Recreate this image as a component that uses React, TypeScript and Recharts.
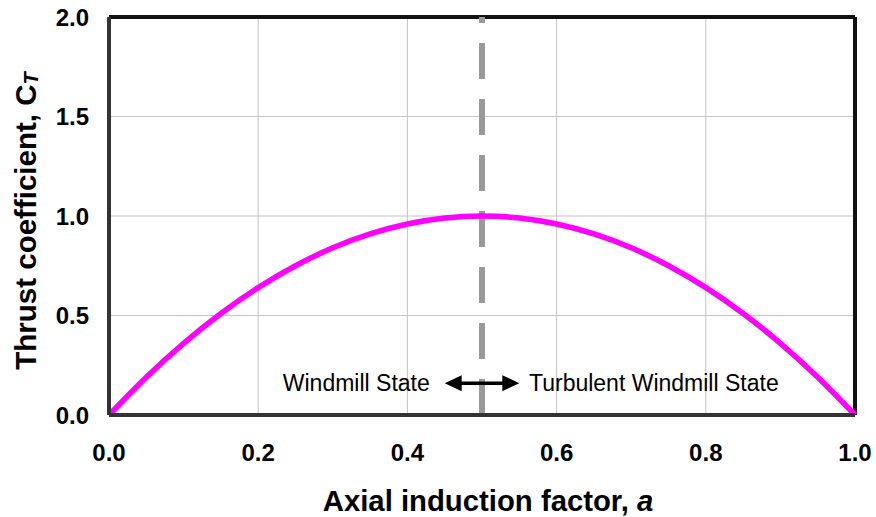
import { LineChart, Line, XAxis, YAxis, CartesianGrid, ReferenceLine, ReferenceDot } from "recharts"

// axial induction factor a
const inductionFactor = [
  0, 0.05, 0.1, 0.15, 0.2, 0.25, 0.3, 0.35, 0.4, 0.45, 0.5,
  0.55, 0.6, 0.65, 0.7, 0.75, 0.8, 0.85, 0.9, 0.95, 1.0,
]
// thrust coefficient CT
const thrustCoeff = [
  0, 0.19, 0.36, 0.51, 0.64, 0.75, 0.84, 0.91, 0.96, 0.99, 1.0,
  0.99, 0.96, 0.91, 0.84, 0.75, 0.64, 0.51, 0.36, 0.19, 0,
]
const xTicks = [0, 0.2, 0.4, 0.6, 0.8, 1.0]
const yTicks = [0, 0.5, 1.0, 1.5, 2.0]

const divider = 0.5
const arrowFrom = 0.45
const arrowTo = 0.55
const arrowLevel = 0.16
const leftLabel = "Windmill State"
const rightLabel = "Turbulent Windmill State"

const data = inductionFactor.map((a, i) => ({ a, ct: thrustCoeff[i] }))

const font = "Arial, 'Liberation Sans', Helvetica, sans-serif"

function Arrow(props: any) {
  const x1 = props.x1 ?? props.points?.[0]?.x
  const y1 = props.y1 ?? props.points?.[0]?.y
  const x2 = props.x2 ?? props.points?.[1]?.x
  const head = 17
  const half = 8
  return (
    <g>
      <line x1={x1 + head - 2} y1={y1} x2={x2 - head + 2} y2={y1} stroke="#000" strokeWidth={3.5} />
      <polygon points={`${x1},${y1} ${x1 + head},${y1 - half} ${x1 + head},${y1 + half}`} fill="#000" />
      <polygon points={`${x2},${y1} ${x2 - head},${y1 - half} ${x2 - head},${y1 + half}`} fill="#000" />
    </g>
  )
}

function StateText({ cx, cy, text, anchor }: any) {
  return (
    <text
      x={cx}
      y={cy}
      textAnchor={anchor}
      dominantBaseline="central"
      fontFamily={font}
      fontSize={23}
      fill="#000"
    >
      {text}
    </text>
  )
}

export default function App() {
  return (
    <div style={{ position: "absolute", left: 0, top: 0, background: "#fff" }}>
      <LineChart
        width={876}
        height={517}
        data={data}
        margin={{ top: 17, right: 21, left: 0, bottom: 0 }}
      >
        <CartesianGrid stroke="#c4c4c4" strokeWidth={1} />
        <XAxis
          dataKey="a"
          type="number"
          domain={[0, 1]}
          ticks={xTicks}
          tickFormatter={(v: number) => v.toFixed(1)}
          height={102}
          tickSize={0}
          tickMargin={29}
          axisLine={{ stroke: "#333", strokeWidth: 4 }}
          tick={{ fill: "#000", fontSize: 24, fontWeight: "bold", fontFamily: font }}
          label={{
            content: () => (
              <text x={488} y={500} textAnchor="middle" dominantBaseline="central" fontFamily={font} fontSize={29.3} fontWeight="bold" fill="#000">
                Axial induction factor, <tspan fontStyle="italic">a</tspan>
              </text>
            ),
          }}
        />
        <YAxis
          type="number"
          domain={[0, 2]}
          ticks={yTicks}
          tickFormatter={(v: number) => v.toFixed(1)}
          width={109}
          tickSize={0}
          tickMargin={20}
          axisLine={{ stroke: "#333", strokeWidth: 4 }}
          tick={{ fill: "#000", fontSize: 24, fontWeight: "bold", fontFamily: font }}
          label={{
            content: () => (
              <text
                x={0}
                y={0}
                transform="translate(25 221) rotate(-90)"
                textAnchor="middle"
                dominantBaseline="central"
                fontFamily={font}
                fontSize={29.5}
                fontWeight="bold"
                fill="#000"
              >
                Thrust coefficient, C
                <tspan fontStyle="italic" fontSize={20} dy={6}>T</tspan>
              </text>
            ),
          }}
        />
        <ReferenceLine y={2} stroke="#111" strokeWidth={4} />
        <ReferenceLine x={1} stroke="#111" strokeWidth={4} />
        <ReferenceLine x={divider} stroke="#999" strokeWidth={6} strokeDasharray="36 20" />
        <Line
          type="monotone"
          dataKey="ct"
          stroke="#ff00ff"
          strokeWidth={5.5}
          dot={false}
          isAnimationActive={false}
        />
        <ReferenceLine
          segment={[
            { x: arrowFrom, y: arrowLevel },
            { x: arrowTo, y: arrowLevel },
          ]}
          shape={(p: any) => <Arrow {...p} />}
        />
        <ReferenceDot
          x={0.43}
          y={arrowLevel}
          r={0}
          shape={(p: any) => <StateText cx={p.cx} cy={p.cy} text={leftLabel} anchor="end" />}
        />
        <ReferenceDot
          x={0.563}
          y={arrowLevel}
          r={0}
          shape={(p: any) => <StateText cx={p.cx} cy={p.cy} text={rightLabel} anchor="start" />}
        />
      </LineChart>
    </div>
  )
}
